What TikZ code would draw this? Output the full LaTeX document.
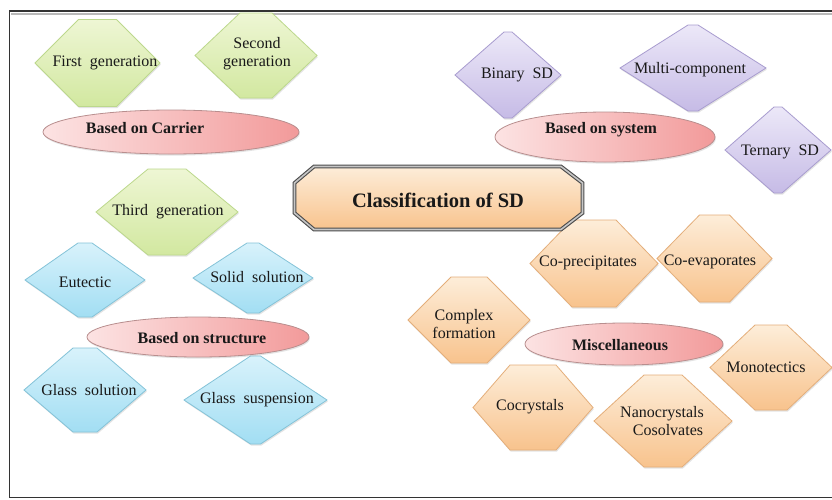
\documentclass[tikz,border=0pt]{standalone}
\usepackage{fontspec}
\setmainfont{Liberation Serif}
\usetikzlibrary{shadows}
\definecolor{grT}{HTML}{EEF6D4}\definecolor{grB}{HTML}{D2E8A0}\definecolor{grD}{HTML}{BCD88C}
\definecolor{blT}{HTML}{D8F2FB}\definecolor{blB}{HTML}{A2DEF3}\definecolor{blD}{HTML}{84C3D8}
\definecolor{puT}{HTML}{ECE8F8}\definecolor{puB}{HTML}{C6BBE6}\definecolor{puD}{HTML}{A89CCF}
\definecolor{orT}{HTML}{FDEDD9}\definecolor{orB}{HTML}{F8C38D}\definecolor{orD}{HTML}{E4AE7A}
\definecolor{pkL}{HTML}{FCE3E3}\definecolor{pkR}{HTML}{F29A9A}\definecolor{pkD}{HTML}{B88E8E}
\newcommand\mkhex[6]{\path[#6] (#1-#3,#2) -- (#1-#5,#2-#4) -- (#1+#5,#2-#4) -- (#1+#3,#2) -- (#1+#5,#2+#4) -- (#1-#5,#2+#4) -- cycle;}
\newcommand\mkell[5]{\path[#5] (#1,#2) ellipse [x radius=#3pt, y radius=#4pt];}
\tikzset{
  shp/.style={line width=0.8pt, drop shadow={opacity=0.22, shadow xshift=0.8pt, shadow yshift=-1.6pt}},
  greenhex/.style={shp, draw=grD, top color=grT, bottom color=grB},
  bluehex/.style={shp, draw=blD, top color=blT, bottom color=blB},
  purphex/.style={shp, draw=puD, top color=puT, bottom color=puB},
  orhex/.style={shp, draw=orD, top color=orT, bottom color=orB},
  pinkell/.style={shp, draw=pkD, left color=pkL, right color=pkR},
  lbl/.style={font=\fontsize{16}{18}\selectfont, text=black!90, inner sep=0pt, align=center},
  blbl/.style={font=\fontsize{16}{18}\selectfont\bfseries, text=black!90, inner sep=0pt},
  tlbl/.style={font=\fontsize{20.5}{22}\selectfont\bfseries, text=black!90, inner sep=0pt}
}
\begin{document}
\begin{tikzpicture}[x=1pt,y=-1pt]
\useasboundingbox (0,0) rectangle (832,499);
\fill[white] (0,0) rectangle (832,499);
% frame
\draw[line width=1.6pt, black!80] (845,10.8) -- (9.5,10.8) -- (9.5,497.3) -- (845,497.3);
\draw[line width=2pt, gray!55] (11,13.7) -- (845,13.7);
% green
\mkhex{97.5}{63}{62.5}{43.5}{19}{greenhex}
\mkhex{256}{55.5}{61}{42.5}{16}{greenhex}
\mkhex{167}{212}{71}{43}{19}{greenhex}
% blue
\mkhex{85}{280}{60}{37}{7}{bluehex}
\mkhex{253}{278}{60}{35}{6}{bluehex}
\mkhex{85}{390}{61}{42}{12}{bluehex}
\mkhex{255.5}{400}{71.5}{44}{5}{bluehex}
% purple
\mkhex{508}{75}{53}{43}{4}{purphex}
\mkhex{693}{68}{73}{43}{5}{purphex}
\mkhex{778}{150}{53}{43}{4}{purphex}
% orange
\mkhex{594}{263.5}{64}{43.5}{22}{orhex}
\mkhex{714.5}{258.5}{57.5}{43.5}{15}{orhex}
\mkhex{469}{320}{61}{43}{18}{orhex}
\mkhex{771}{367.5}{61}{42.5}{16}{orhex}
\mkhex{533}{407.5}{60}{42.5}{23}{orhex}
\mkhex{663}{421}{69}{46}{19}{orhex}
% ellipses
\mkell{171}{132}{128}{22}{pinkell}
\mkell{605}{137}{110}{25}{pinkell}
\mkell{198}{337}{111}{20}{pinkell}
\mkell{624}{344}{99}{21}{pinkell}
% central octagon
\path[draw=black!70, double=gray!45, double distance=1.6pt, line width=1.1pt,
      top color=orT, bottom color=orB,
      drop shadow={opacity=0.2, shadow xshift=1pt, shadow yshift=-1.5pt}]
  (294.5,183) -- (314,166.5) -- (561,166.5) -- (582.5,183) -- (582.5,213) -- (561,229.5) -- (314,229.5) -- (294.5,213) -- cycle;
% labels
\node[lbl] (fg) at (105,63) {First\ \ generation};
\node[lbl] (sg) at (257,54) {Second\\generation};
\node[blbl] (bc) at (145,128) {Based on Carrier};
\node[lbl] (tg) at (168,212) {Third\ \ generation};
\node[lbl] (eu) at (85,282) {Eutectic};
\node[lbl] (ss) at (257,277) {Solid\ \ solution};
\node[blbl] (bst) at (202,338) {Based on structure};
\node[lbl] (gs) at (89,390) {Glass\ \ solution};
\node[lbl] (gsp) at (257,400) {Glass\ \ suspension};
\node[lbl] (bsd) at (517,75) {Binary\ \ SD};
\node[lbl] (mc) at (690,70) {Multi-component};
\node[blbl] (bsy) at (601,130) {Based on system};
\node[lbl] (tsd) at (780,152) {Ternary\ \ SD};
\node[tlbl] (cls) at (438,200) {Classification of SD};
\node[lbl] (cop) at (588,263) {Co-precipitates};
\node[lbl] (coe) at (710,262) {Co-evaporates};
\node[lbl] (cf) at (464,324) {Complex\\formation};
\node[blbl] (mis) at (620,345) {Miscellaneous};
\node[lbl] (mon) at (766,367) {Monotectics};
\node[lbl] (coc) at (530,407) {Cocrystals};
\node[lbl] (nan) at (662,421) {Nanocrystals\\\ \ \ Cosolvates};
\end{tikzpicture}
\end{document}
